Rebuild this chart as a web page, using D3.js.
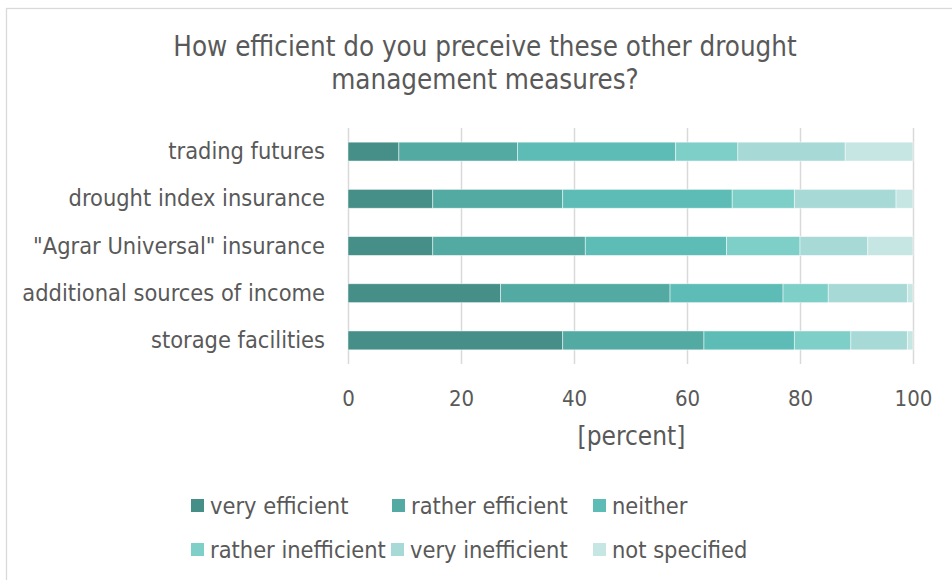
<!DOCTYPE html>
<html>
<head>
<meta charset="utf-8">
<script src="https://cdn.jsdelivr.net/npm/d3@7"></script>
<style>
  html, body { margin: 0; padding: 0; background: #fff; }
  svg { display: block; }
  text { font-family: "DejaVu Sans Condensed", "DejaVu Sans", sans-serif; fill: #595959; }
</style>
</head>
<body>
<svg id="chart" width="952" height="580"></svg>
<script>
const categories = ["trading futures", "drought index insurance", "\"Agrar Universal\" insurance", "additional sources of income", "storage facilities"];
const seriesNames = ["very efficient", "rather efficient", "neither", "rather inefficient", "very inefficient", "not specified"];
const veryEfficient      = [9, 15, 15, 27, 38];
const ratherEfficient    = [21, 23, 27, 30, 25];
const neither            = [28, 30, 25, 20, 16];
const ratherInefficient  = [11, 11, 13, 8, 10];
const veryInefficient    = [19, 18, 12, 14, 10];
const notSpecified       = [12, 3, 8, 1, 1];
const xTicks = [0, 20, 40, 60, 80, 100];
const colors = ["#458f88", "#52aaa3", "#5dbdb6", "#7fcfc9", "#a7d9d6", "#c6e6e3"];

const seriesValues = [veryEfficient, ratherEfficient, neither, ratherInefficient, veryInefficient, notSpecified];
const rows = categories.map((c, i) => {
  const o = { category: c };
  seriesNames.forEach((s, j) => o[s] = seriesValues[j][i]);
  return o;
});

const FONT = "'DejaVu Sans Condensed', 'DejaVu Sans', sans-serif";
const svg = d3.select("#chart");

// outer border
svg.append("rect").attr("x", 6.5).attr("y", 8.5).attr("width", 960).attr("height", 600)
  .attr("fill", "none").attr("stroke", "#d9d9d9").attr("stroke-width", 1.3);

// title
const title = svg.append("text").attr("text-anchor", "middle").attr("font-size", 27.5);
title.append("tspan").attr("x", 485).attr("y", 56).text("How efficient do you preceive these other drought");
title.append("tspan").attr("x", 485).attr("y", 89).text("management measures?");

const x = d3.scaleLinear().domain([0, 100]).range([348, 913]);
const y = d3.scaleBand().domain(categories).range([128, 364]).paddingInner(0.6).paddingOuter(0.3);

// gridlines
const grid = svg.append("g").attr("transform", "translate(0,128)")
  .call(d3.axisBottom(x).tickValues(xTicks).tickSize(236).tickFormat(""));
grid.select(".domain").remove();
grid.selectAll(".tick line").attr("stroke", "#d9d9d9").attr("stroke-width", 1.5);

// tick labels
const xAxis = svg.append("g").attr("transform", "translate(0,364)")
  .call(d3.axisBottom(x).tickValues(xTicks).tickSize(0).tickPadding(0));
xAxis.select(".domain").remove();
xAxis.selectAll(".tick text").attr("font-size", 22).attr("dy", null).attr("y", 42)
  .style("font-family", FONT).attr("fill", "#595959");

svg.append("text").attr("x", (x(0) + x(100)) / 2 + 1).attr("y", 445).attr("text-anchor", "middle")
  .attr("font-size", 26).text("[percent]");

// category labels
const yAxis = svg.append("g").attr("transform", "translate(348,0)")
  .call(d3.axisLeft(y).tickSize(0).tickPadding(23));
yAxis.select(".domain").remove();
yAxis.selectAll(".tick text").attr("font-size", 23.4)
  .style("font-family", FONT).attr("fill", "#595959");

// stacked bars
const stack = d3.stack().keys(seriesNames)(rows);
svg.append("g").selectAll("g").data(stack).join("g")
  .attr("fill", (d, i) => colors[i])
  .selectAll("rect").data(d => d).join("rect")
  .attr("x", d => x(d[0]))
  .attr("y", d => y(d.data.category))
  .attr("width", d => x(d[1]) - x(d[0]))
  .attr("height", y.bandwidth())
  .attr("stroke", "#ffffff").attr("stroke-opacity", 0.6).attr("stroke-width", 0.8);

// legend
const legendPos = [[191, 499], [392, 499], [593, 499], [191, 543], [391, 543], [593, 543]];
const legend = svg.append("g").selectAll("g").data(seriesNames).join("g")
  .attr("transform", (d, i) => `translate(${legendPos[i][0]},${legendPos[i][1]})`);
legend.append("rect").attr("width", 13).attr("height", 13).attr("fill", (d, i) => colors[i]);
legend.append("text").attr("x", 19).attr("y", 6.5).attr("dy", "0.35em").attr("font-size", 23.4).text(d => d);
</script>
</body>
</html>
